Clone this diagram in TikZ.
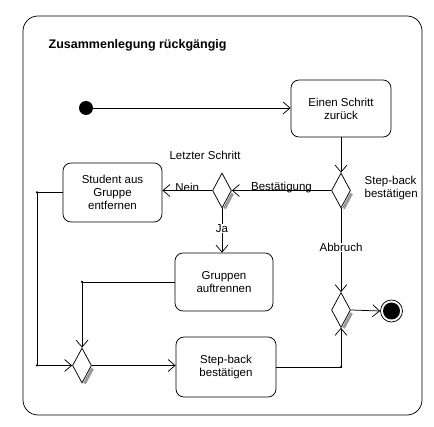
\documentclass[tikz,border=0pt]{standalone}
\usepackage{fontspec}
\setmainfont{Liberation Sans}
\usetikzlibrary{shapes.geometric,arrows.meta,calc}
\begin{document}
\begin{tikzpicture}[x=1pt,y=-1pt,line width=0.75pt,
  every node/.style={font=\fontsize{11.5}{13}\selectfont},
  act/.style={draw,rounded corners=8pt,align=center,inner sep=0pt},
  dec/.style={draw,fill=white,diamond,inner sep=0pt,minimum width=19pt,minimum height=35pt,aspect=0.54},
  flow/.style={-{Straight Barb[length=7pt,width=12pt,line width=0.75pt]}},
  dot/.style={circle,fill,inner sep=0pt,minimum size=2.5pt},
  shade/.style={black!40,line width=3pt}]
\useasboundingbox (0,0) rectangle (434,427);
\draw[rounded corners=15pt] (23,16) rectangle (422,415);
\node[anchor=west,font=\bfseries\fontsize{12.5}{14}\selectfont] (title) at (45,45) {Zusammenlegung rückgängig};

\node[circle,fill,inner sep=0pt,minimum size=14pt] (start) at (86,108) {};
\node[act,minimum width=100pt,minimum height=57pt] (b1) at (341,108.5) {Einen Schritt\\zurück};
\node[act,minimum width=99pt,minimum height=59pt] (b2) at (112.5,192.5) {Student aus\\Gruppe\\entfernen};
\node[act,minimum width=98pt,minimum height=58pt] (b3) at (224,282) {Gruppen\\auftrennen};
\node[act,minimum width=100pt,minimum height=60pt] (b4) at (226,367) {Step-back\\bestätigen};

\foreach \px/\py in {341/190.5,222/190.5,82/365.5,341/310}{
  \draw[shade] (\px+10.5,\py+3) -- (\px+2.5,\py+18);
}
\node[dec] (d1) at (341,190.5) {};
\node[dec] (d2) at (222,190.5) {};
\node[dec] (d3) at (82,365.5) {};
\node[dec] (d4) at (341,310) {};

\node[circle,draw,inner sep=0pt,minimum size=22pt] (end) at (391.5,311) {};
\node[circle,fill,inner sep=0pt,minimum size=17pt] (endin) at (391.5,311) {};

\node[anchor=west,align=left] (lsb) at (361,188) {Step-back\\bestätigen};
\node (lls) at (205,155) {Letzter Schritt};

\coordinate (c1) at (37,0 |- b2.west);
\coordinate (c1b) at (37,0 |- d3.west);
\coordinate (c2) at (82,0 |- b3.west);
\coordinate (c3) at (d1.south |- b4.east);

\draw[flow] (start) -- (start -| b1.west);
\draw[flow] (b1.south -| d1.north) -- (d1.north);
\draw[flow] (d1.west) -- node[midway,yshift=3pt] (lbest) {Bestätigung} (d2.east);
\draw[flow] (d2.west) -- node[midway,yshift=3pt] (lnein) {Nein} (d2.west -| b2.east);
\draw[flow] (d2.south) -- node[pos=0.45,fill=white,inner sep=0.5pt] (lja) {Ja} (d2.south |- b3.north);
\draw[flow] (b2.west) -- (c1) -- (c1b) -- (d3.west);
\draw[flow] (b3.west) -- (c2) -- (d3.north);
\draw[flow] (d3.east) -- (d3.east -| b4.west);
\draw[flow] (b4.east) -- (c3) -- (d4.south);
\draw[flow] (d1.south) -- node[pos=0.47,fill=white,inner sep=0.5pt] (labb) {Abbruch} (d4.north);
\draw[flow] (d4.east) -- (end.west);

\node[dot] at (c1) {};
\node[dot] at (c1b) {};
\node[dot] at (c2) {};
\node[dot] at (c3) {};
\end{tikzpicture}
\end{document}
